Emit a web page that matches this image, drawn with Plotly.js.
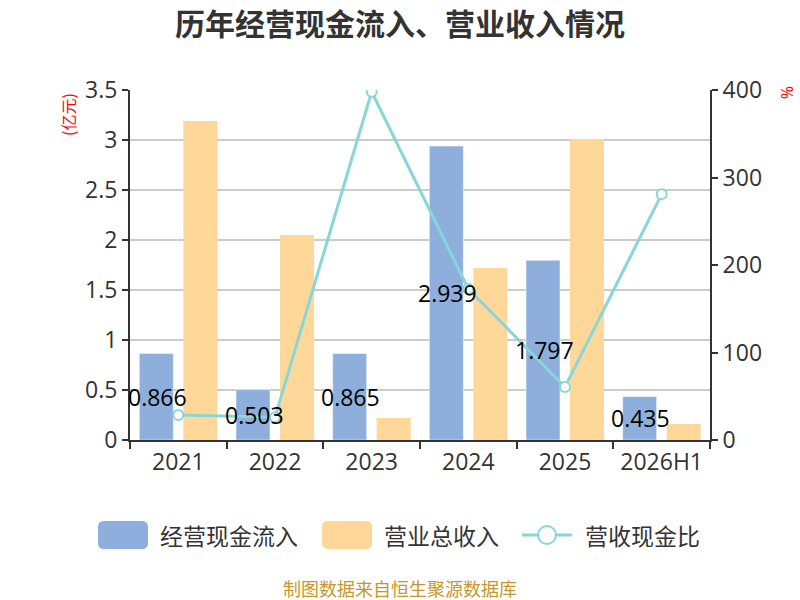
<!DOCTYPE html>
<html>
<head>
<meta charset="utf-8">
<script src="https://cdn.plot.ly/plotly-3.0.1.min.js"></script>
<style>
  body { margin: 0; background: #fff; }
  #chart { width: 800px; height: 600px; }
</style>
</head>
<body>
<div id="chart"></div>
<script>
// data
var years = ["2021", "2022", "2023", "2024", "2025", "2026H1"];
var cashIn = [0.866, 0.503, 0.865, 2.939, 1.797, 0.435];      // 经营现金流入 (亿元)
var revenue = [3.19, 2.05, 0.22, 1.72, 3.01, 0.16];           // 营业总收入 (亿元)
var ratio = [28.6, 26, 398, 172.6, 60.6, 281];                // 营收现金比 (%)
var seriesNames = ['经营现金流入', '营业总收入', '营收现金比'];

var cjk = '"Noto Sans CJK SC", "Noto Sans", sans-serif';
var num = '"Open Sans", "Noto Sans", sans-serif';
var blue = '#8eaedb', orange = '#ffd899', teal = '#88d6d8';
var pos = years.map(function(d, i) { return i; });

var traceCash = {
  type: 'bar', name: seriesNames[0], x: pos, y: cashIn,
  marker: { color: blue, line: { color: 'rgba(255,255,255,0.5)', width: 1 } }, hoverinfo: 'none'
};
var traceRev = {
  type: 'bar', name: seriesNames[1], x: pos, y: revenue,
  marker: { color: orange }, hoverinfo: 'none'
};
var traceRatio = {
  type: 'scatter', mode: 'lines+markers', name: seriesNames[2], x: pos, y: ratio,
  yaxis: 'y2',
  line: { color: teal, width: 3 },
  marker: { symbol: 'circle', size: 10, color: '#fff', line: { color: teal, width: 2 } },
  hoverinfo: 'none'
};

// plot area in pixels: x 130..710, y 90..440
function px(x) { return (x - 130) / 580; }
function py(y) { return (440 - y) / 350; }

// labels in the middle of the blue bars
var annotations = cashIn.map(function(v, i) {
  return {
    x: i, y: v / 2, xref: 'x', yref: 'y', text: String(v),
    showarrow: false, xshift: -21,
    font: { family: num, size: 23, color: '#000' }
  };
});

annotations.push({
  xref: 'paper', yref: 'paper', x: px(68), y: py(115), xanchor: 'center', yanchor: 'middle',
  text: '(亿元)', textangle: -90, showarrow: false, font: { family: cjk, size: 16, color: '#f00' }
});
annotations.push({
  xref: 'paper', yref: 'paper', x: px(787), y: py(92), xanchor: 'center', yanchor: 'middle',
  text: '%', textangle: 90, showarrow: false, font: { family: num, size: 16, color: '#f00' }
});
annotations.push({
  xref: 'paper', yref: 'paper', x: px(400), y: py(588), xanchor: 'center', yanchor: 'middle',
  text: '制图数据来自恒生聚源数据库', showarrow: false, font: { family: cjk, size: 18, color: '#c8962a' }
});

// hand-drawn legend
function roundRect(x0, y0, x1, y1, r) {
  var rx = r / 580, ry = r / 350;
  var a = px(x0), b = px(x1), t = py(y0), u = py(y1);
  return 'M' + (a + rx) + ',' + t + ' L' + (b - rx) + ',' + t +
    ' Q' + b + ',' + t + ' ' + b + ',' + (t - ry) +
    ' L' + b + ',' + (u + ry) + ' Q' + b + ',' + u + ' ' + (b - rx) + ',' + u +
    ' L' + (a + rx) + ',' + u + ' Q' + a + ',' + u + ' ' + a + ',' + (u + ry) +
    ' L' + a + ',' + (t - ry) + ' Q' + a + ',' + t + ' ' + (a + rx) + ',' + t + ' Z';
}
var legY = 535;
var shapes = [
  { type: 'path', xref: 'paper', yref: 'paper', path: roundRect(98, 521, 148, 549, 6), fillcolor: blue, line: { width: 0 } },
  { type: 'path', xref: 'paper', yref: 'paper', path: roundRect(322, 521, 372, 549, 6), fillcolor: orange, line: { width: 0 } },
  { type: 'line', xref: 'paper', yref: 'paper', x0: px(522), x1: px(572), y0: py(legY), y1: py(legY), line: { color: teal, width: 3 } },
  { type: 'circle', xref: 'paper', yref: 'paper', x0: px(538), x1: px(556), y0: py(legY - 9), y1: py(legY + 9), fillcolor: '#fff', line: { color: teal, width: 2 } }
];
[158, 382, 583].forEach(function(x, i) {
  annotations.push({
    xref: 'paper', yref: 'paper', x: px(x), y: py(legY), xanchor: 'left', yanchor: 'middle',
    text: seriesNames[i], showarrow: false, font: { family: cjk, size: 23, color: '#333' }
  });
});

var layout = {
  width: 800, height: 600,
  margin: { l: 130, r: 90, t: 90, b: 160 },
  paper_bgcolor: '#fff', plot_bgcolor: '#fff',
  font: { family: cjk, color: '#333' },
  title: {
    text: '<b>历年经营现金流入、营业收入情况</b>',
    x: 0.5, xanchor: 'center', y: 0.96, yanchor: 'middle',
    font: { family: cjk, size: 30, color: '#333' }
  },
  barmode: 'group', bargap: 0.09, bargroupgap: 0.227,
  showlegend: false,
  xaxis: {
    range: [-0.5, 5.5], tickvals: pos, ticktext: years, ticks: '',
    minor: { tick0: -0.5, dtick: 1, ticks: 'outside', ticklen: 7, tickwidth: 2, tickcolor: '#333', showgrid: false },
    showline: true, linecolor: '#333', linewidth: 2, zeroline: false,
    tickfont: { family: num, size: 23, color: '#333' }, showgrid: false, fixedrange: true
  },
  yaxis: {
    range: [0, 3.5], dtick: 0.5, ticks: 'outside', ticklen: 6, tickwidth: 2, tickcolor: '#333',
    showline: true, linecolor: '#333', linewidth: 2, zeroline: false,
    showgrid: true, gridcolor: '#cccccc', gridwidth: 1.5,
    tickfont: { family: num, size: 23, color: '#333' }, fixedrange: true
  },
  yaxis2: {
    overlaying: 'y', side: 'right', range: [0, 400], dtick: 100,
    ticks: 'outside', ticklen: 6, tickwidth: 2, tickcolor: '#333',
    showline: true, linecolor: '#333', linewidth: 2, zeroline: false, showgrid: false,
    tickfont: { family: num, size: 23, color: '#333' }, fixedrange: true
  },
  shapes: shapes,
  annotations: annotations
};

Plotly.newPlot('chart', [traceCash, traceRev, traceRatio], layout, { displayModeBar: false, staticPlot: true });
</script>
</body>
</html>
